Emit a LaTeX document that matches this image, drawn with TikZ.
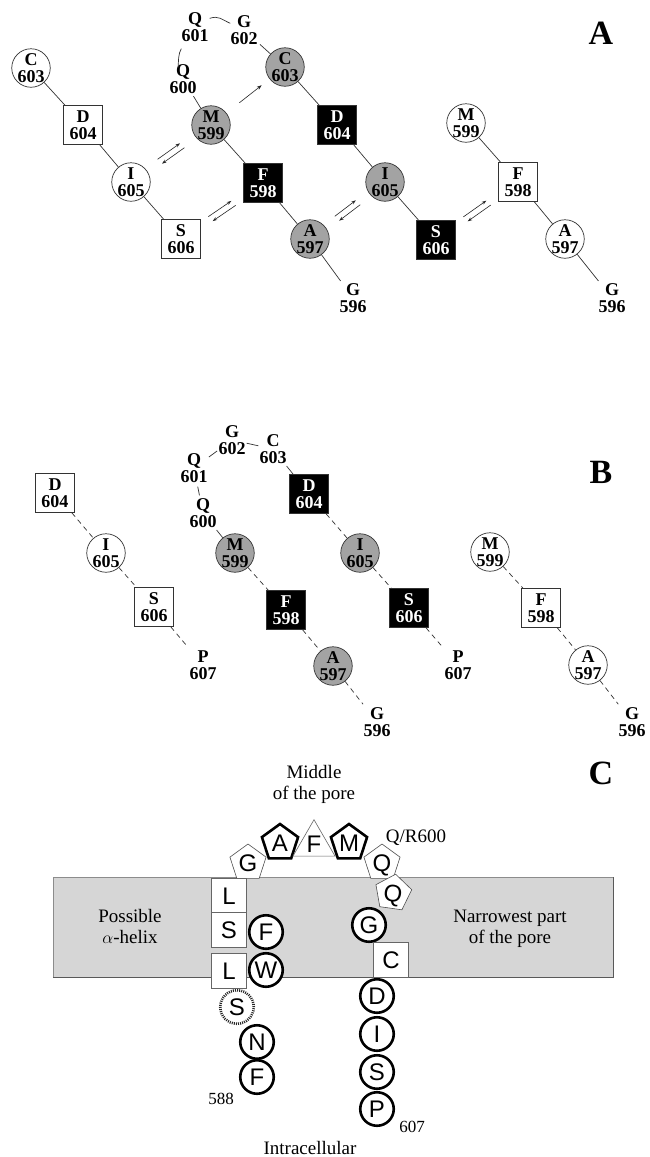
\documentclass[tikz,border=0pt]{standalone}
\usepackage{fontspec}
\setmainfont{Liberation Serif}
\newfontfamily\csans{Liberation Sans}
\usetikzlibrary{shapes.geometric,arrows.meta,calc}
\newcommand\resfont{\fontsize{18}{16.8}\selectfont\bfseries}
\newcommand\labfont{\fontsize{19}{21.5}\selectfont}
\newcommand\numfont{\fontsize{17}{19}\selectfont}
\newcommand\panfont{\fontsize{34}{34}\selectfont\bfseries}
\newcommand\aafont{\csans\fontsize{24}{24}\selectfont}
\newcommand\eqpair[2]{%
  \draw[harr] ($(#1)!0.36!(#2)+(-2.2,-2.2)$) -- ($(#1)!0.64!(#2)+(-2.2,-2.2)$);
  \draw[harr] ($(#1)!0.64!(#2)+(2.2,2.2)$) -- ($(#1)!0.36!(#2)+(2.2,2.2)$);}
\begin{document}
\begin{tikzpicture}[x=1pt,y=-1pt,
 res/.style={font=\resfont, align=center, inner sep=0pt},
 wc/.style={res, circle, draw=black!80, line width=0.7pt, fill=white, minimum size=38.5pt, inner sep=-1.5pt},
 gc/.style={wc, fill=black!36},
 ws/.style={res, rectangle, draw=black!80, line width=0.7pt, fill=white, minimum size=39pt},
 bs/.style={ws, fill=black, text=white},
 tx/.style={res},
 bond/.style={draw=black!80, line width=0.7pt},
 dbond/.style={bond, dash pattern=on 5pt off 4pt},
 harr/.style={draw=black!85, line width=0.6pt, -{Stealth[length=4.5pt,width=3.2pt]}},
 sarr/.style={draw=black!85, line width=0.6pt, -{Stealth[length=5pt,width=3.6pt]}},
 panel/.style={font=\panfont, inner sep=0pt},
 membrane/.style={fill=black!16, draw=black!45, line width=0.6pt},
 aa/.style={font=\aafont, inner sep=0pt, text height=17.2pt, text depth=0pt},
 sq/.style={aa, rectangle, draw=black!60, fill=white, line width=0.6pt, minimum size=34.5pt},
 ring/.style={aa, circle, draw=black, fill=white, line width=2.6pt, minimum size=33.5pt},
 dring/.style={ring, draw=black!85, dash pattern=on 1pt off 1.1pt},
 pent/.style={aa, regular polygon, regular polygon sides=5, draw=black!70, fill=white, line width=0.6pt, minimum size=38pt},
 tpent/.style={pent, draw=black, line width=2.6pt},
 tri/.style={aa, regular polygon, regular polygon sides=3, draw=black!60, fill=white, line width=0.6pt, minimum size=46pt},
 note/.style={font=\labfont, align=center, inner sep=0pt},
 num/.style={font=\numfont, inner sep=0pt}
]
\useasboundingbox[fill=white] (0,0) rectangle (649,1157);

% ---------------- Panel A ----------------
\node[wc] (a603l) at (31,68) {C\\603};
\node[ws] (a604l) at (83,125) {D\\604};
\node[wc] (a605l) at (131,182) {I\\605};
\node[ws] (a606l) at (181,239) {S\\606};
\draw[bond] (a603l) -- (a604l) (a604l) -- (a605l) (a605l) -- (a606l);

\node[tx] (a601) at (195,27) {Q\\601};
\node[tx] (a602) at (244,30) {G\\602};
\node[tx] (a600) at (183,79) {Q\\600};
\node[gc] (a599) at (211,125) {M\\599};
\node[gc] (a603) at (285,67) {C\\603};
\node[bs] (a604) at (337,125) {D\\604};
\node[gc] (a605) at (385,182) {I\\605};
\node[bs] (a606) at (436,240) {S\\606};
\node[bs] (a598) at (263,183) {F\\598};
\node[gc] (a597) at (310,239) {A\\597};
\node[tx] (a596) at (353,298) {G\\596};
\draw[bond, shorten <=3pt] (a600) -- (a599);
\draw[bond] (a599) -- (a598) (a598) -- (a597);
\draw[bond, shorten >=3pt] (a597) -- (a596);
\draw[bond, shorten <=3pt] (a602) -- (a603);
\draw[bond] (a603) -- (a604) (a604) -- (a605) (a605) -- (a606);
\draw[bond] ([xshift=1pt,yshift=-6pt]a601.north east) .. controls +(9,-3) and +(-9,-4) .. ([yshift=-8pt]a602.north west);
\draw[bond] ([yshift=-7pt]a601.south west) .. controls +(-3,5) and +(0,-6) .. ([xshift=9pt,yshift=-3pt]a600.north west);
\draw[sarr, shorten <=16.5pt, shorten >=10pt] (a599) -- (a603);

\node[wc] (r599) at (466,123) {M\\599};
\node[ws] (r598) at (518,182) {F\\598};
\node[wc] (r597) at (565,239) {A\\597};
\node[tx] (r596) at (612,298) {G\\596};
\draw[bond] (r599) -- (r598) (r598) -- (r597);
\draw[bond, shorten >=3pt] (r597) -- (r596);

\eqpair{a605l}{a599}
\eqpair{a606l}{a598}
\eqpair{a597}{a605}
\eqpair{a606}{r598}

\node[panel] (pa) at (601,33) {A};

% ---------------- Panel B ----------------
\node[ws] (b604l) at (55,493) {D\\604};
\node[wc] (b605l) at (106,553) {I\\605};
\node[ws] (b606l) at (154,607) {S\\606};
\node[tx] (b607l) at (203,665) {P\\607};
\draw[dbond] (b604l) -- (b605l) (b605l) -- (b606l);
\draw[dbond, shorten >=4pt] (b606l) -- (b607l);

\node[tx] (b602) at (232,440) {G\\602};
\node[tx] (b603t) at (273,449) {C\\603};
\node[tx] (b601) at (194,468) {Q\\601};
\node[tx] (b600) at (203,513) {Q\\600};
\node[gc] (b599) at (235,553) {M\\599};
\node[bs] (b598) at (286,610) {F\\598};
\node[gc] (b597) at (333,666) {A\\597};
\node[tx] (b596) at (377,722) {G\\596};
\node[bs] (b604) at (309,494) {D\\604};
\node[gc] (b605) at (360,553) {I\\605};
\node[bs] (b606) at (409,608) {S\\606};
\node[tx] (b607) at (458,665) {P\\607};
\draw[bond, shorten <=1.5pt, shorten >=1.5pt] (b601) -- (b602);
\draw[bond, shorten <=1pt, shorten >=1pt] (b602) -- (b603t);
\draw[bond, shorten <=4pt, shorten >=3pt] (b601) -- (b600);
\draw[bond, shorten <=3pt] (b603t) -- (b604);
\draw[bond, shorten <=3pt] (b600) -- (b599);
\draw[dbond] (b599) -- (b598) (b598) -- (b597);
\draw[dbond, shorten >=4pt] (b597) -- (b596);
\draw[dbond] (b604) -- (b605) (b605) -- (b606);
\draw[dbond, shorten >=4pt] (b606) -- (b607);

\node[wc] (rb599) at (490,552) {M\\599};
\node[ws] (rb598) at (541,608) {F\\598};
\node[wc] (rb597) at (588,665) {A\\597};
\node[tx] (rb596) at (632,722) {G\\596};
\draw[dbond] (rb599) -- (rb598) (rb598) -- (rb597);
\draw[dbond, shorten >=4pt] (rb597) -- (rb596);

\node[panel] (pb) at (601,472) {B};

% ---------------- Panel C ----------------
\node[panel] (pc) at (601,773) {C};
\node[note, anchor=north] (mid) at (314,765) {Middle\\of the pore};
\draw[membrane] (53,877) rectangle (613,977);
\draw[draw=black!65, line width=1.4pt] (53,977.5) -- (613.5,977.5) -- (613.5,877);
\node[note, anchor=north] (helix) at (130,909) {Possible\\$\alpha$-helix};
\node[note, anchor=north] (narrow) at (510,909.5) {Narrowest part\\of the pore};
\node[note, anchor=base] (qr) at (416,842) {Q/R600};

\node[pent] (cG) at (248,863) {G};
\node[tpent] (cA) at (280,843) {A};
\node[tri] (cF) at (314,844) {F};
\node[tpent] (cM) at (349,843) {M};
\node[pent] (cQ1) at (382,863) {Q};
\node[pent, rotate=-8] (cQ2) at (393,893) {Q};

\node[sq] (cL1) at (229,896) {L};
\node[sq] (cS1) at (229,930) {S};
\node[sq] (cL2) at (229,971) {L};
\node[ring] (cF2) at (266,932) {F};
\node[ring] (cW) at (266,970) {W};
\node[dring] (cS2) at (237,1007) {S};
\node[ring] (cN) at (257,1042) {N};
\node[ring] (cF3) at (257,1077) {F};
\node[num, anchor=base] (n588) at (221,1104) {588};

\node[ring] (cG2) at (369,925) {G};
\node[sq] (cC) at (391,960) {C};
\node[ring] (cD) at (377,996) {D};
\node[ring] (cI) at (377,1034) {I};
\node[ring] (cS3) at (377,1072) {S};
\node[ring] (cP) at (377,1109) {P};
\node[num, anchor=base] (n607) at (412,1132.5) {607};

\node[note, anchor=base] (intra) at (310,1154) {Intracellular};
\end{tikzpicture}
\end{document}
